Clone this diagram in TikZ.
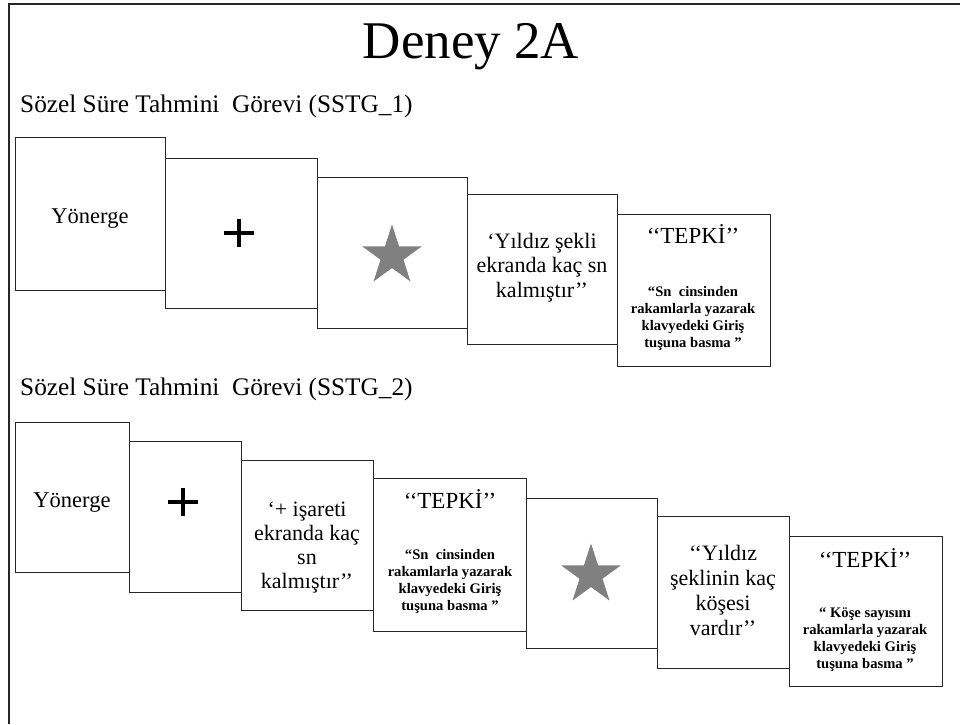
\documentclass[tikz,border=0pt]{standalone}
\usepackage{fontspec}
\setmainfont{Liberation Serif}
\usetikzlibrary{shapes.geometric}
\begin{document}
\begin{tikzpicture}[x=1pt,y=-1pt,
  panel/.style={draw=black!85, line width=1.4pt, fill=white, anchor=north west, inner sep=0pt},
  % multi-line texts are placed by the baseline of their last line
  boxtext/.style={anchor=base, align=center, inner sep=0pt,
    font=\fontsize{22}{24.5}\selectfont},
  word/.style={anchor=base, inner sep=0pt, font=\fontsize{22.5}{26}\selectfont},
  tepki/.style={anchor=base, inner sep=0pt, font=\fontsize{23}{26}\selectfont},
  note/.style={anchor=base, align=center, inner sep=0pt,
    font=\bfseries\fontsize{14.6}{17}\selectfont},
  section/.style={anchor=base west, inner sep=0pt, font=\fontsize{25.3}{30}\selectfont},
  starmark/.style={star, star points=5, star point ratio=2.618, fill=gray,
    draw=none, minimum size=63pt, inner sep=0pt},
  cross/.style={line width=3.2pt, black}]
\useasboundingbox (0,0) rectangle (960,724);

% page frame (only top and left edges fall inside the sheet)
\draw[line width=2pt, black!85] (960,4) -- (9,4) -- (9,724);

% headings
\node[anchor=base, inner sep=0pt, font=\fontsize{53}{60}\selectfont] (title) at (471,58) {Deney 2A};
\node[section] (sec1) at (20,112) {Sözel Süre Tahmini\ \ Görevi (SSTG\_1)};
\node[section] (sec2) at (20,395) {Sözel Süre Tahmini\ \ Görevi (SSTG\_2)};

% ---- SSTG_1 screens ----
\node[panel, minimum width=150pt, minimum height=153pt] (r1a) at (15,137) {};
\node[panel, minimum width=152pt, minimum height=150pt] (r1b) at (165,158) {};
\node[panel, minimum width=150pt, minimum height=151pt] (r1c) at (317,177) {};
\node[panel, minimum width=150pt, minimum height=150pt] (r1d) at (467,194) {};
\node[panel, minimum width=153pt, minimum height=152pt] (r1e) at (617,214) {};

\node[word] (r1aText) at (90,223) {Yönerge};
\coordinate (r1plus) at (239,233);
\draw[cross] ([xshift=-15pt]r1plus) -- ([xshift=15pt]r1plus);
\draw[cross] ([yshift=-14pt]r1plus) -- ([yshift=14pt]r1plus);
\node[starmark] (r1star) at (392,256) {};
\node[boxtext] (r1dText) at (542,297) {‘Yıldız şekli\\ekranda kaç sn\\kalmıştır’’};
\node[tepki] (r1eTitle) at (693,243) {‘‘TEPKİ’’};
\node[note] (r1eNote) at (693,347) {“Sn\ \ cinsinden\\rakamlarla yazarak\\klavyedeki Giriş\\tuşuna basma ”};

% ---- SSTG_2 screens ----
\node[panel, minimum width=114pt, minimum height=150pt] (r2a) at (15,422) {};
\node[panel, minimum width=112pt, minimum height=151pt] (r2b) at (129,441) {};
\node[panel, minimum width=132pt, minimum height=150pt] (r2c) at (241,460) {};
\node[panel, minimum width=153pt, minimum height=153pt] (r2d) at (373,478) {};
\node[panel, minimum width=131pt, minimum height=150pt] (r2e) at (526,498) {};
\node[panel, minimum width=132pt, minimum height=152pt] (r2f) at (657,516) {};
\node[panel, minimum width=153pt, minimum height=150pt] (r2g) at (789,536) {};

\node[word] (r2aText) at (72,507) {Yönerge};
\coordinate (r2plus) at (183,502);
\draw[cross] ([xshift=-15pt]r2plus) -- ([xshift=15pt]r2plus);
\draw[cross] ([yshift=-14pt]r2plus) -- ([yshift=14pt]r2plus);
\node[boxtext, font=\fontsize{22}{23.7}\selectfont] (r2cText) at (307,588) {‘+ işareti\\ekranda kaç\\sn\\kalmıştır’’};
\node[tepki] (r2dTitle) at (450,508) {‘‘TEPKİ’’};
\node[note] (r2dNote) at (450,610) {“Sn\ \ cinsinden\\rakamlarla yazarak\\klavyedeki Giriş\\tuşuna basma ”};
\node[starmark] (r2star) at (591,575) {};
\node[boxtext, font=\fontsize{22}{25}\selectfont] (r2fText) at (723,635) {‘‘Yıldız\\şeklinin kaç\\köşesi\\vardır’’};
\node[tepki] (r2gTitle) at (865,567) {‘‘TEPKİ’’};
\node[note] (r2gNote) at (865,668) {“ Köşe sayısını\\rakamlarla yazarak\\klavyedeki Giriş\\tuşuna basma ”};
\end{tikzpicture}
\end{document}
